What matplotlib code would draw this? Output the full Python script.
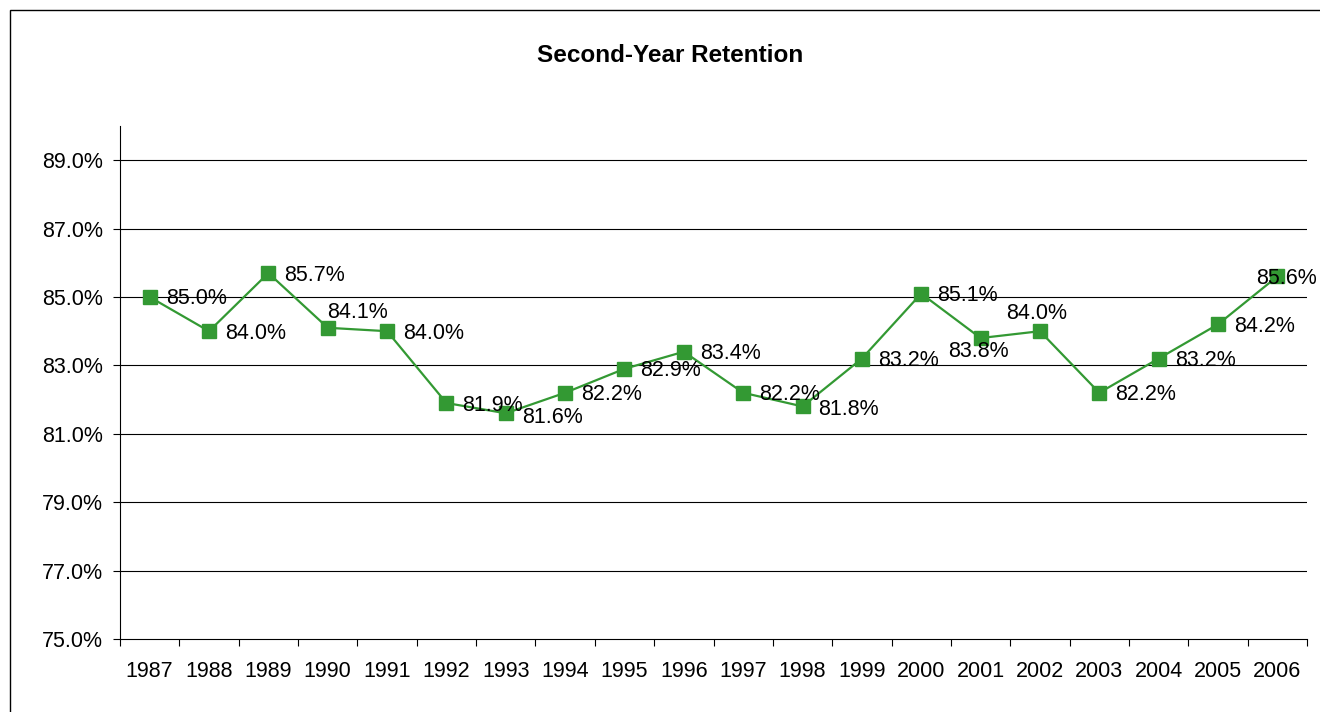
import numpy as np
import matplotlib.pyplot as plt
from matplotlib.patches import Rectangle
from matplotlib.ticker import FuncFormatter

plt.rcParams['font.family'] = ['Liberation Sans', 'DejaVu Sans']

# data
years = [str(y) for y in range(1987, 2007)]
retention = [85.0, 84.0, 85.7, 84.1, 84.0, 81.9, 81.6, 82.2, 82.9, 83.4,
             82.2, 81.8, 83.2, 85.1, 83.8, 84.0, 82.2, 83.2, 84.2, 85.6]
y_ticks = [75, 77, 79, 81, 83, 85, 87, 89]

# label placement tweaks (pixels), default is right of the marker
label_pos = {
    '1990': (-1, 17, 'left'),
    '1993': (16, -2, 'left'),
    '1998': (16, -1, 'left'),
    '2001': (-2, -11, 'center'),
    '2002': (-3, 20, 'center'),
    '2006': (9, 0, 'center'),
}

green = '#339933'
fs = 15.5

fig = plt.figure(figsize=(13.2, 7.12), dpi=100)
ax = fig.add_axes([120 / 1320, 1 - 639 / 712, (1307 - 120) / 1320, (639 - 126) / 712])

x = np.arange(len(years))
ax.plot(x, retention, color=green, lw=1.6, marker='s', markersize=10,
        markerfacecolor=green, markeredgecolor=green, zorder=3)

for i, v in enumerate(retention):
    dx, dy, ha = label_pos.get(years[i], (16, 0, 'left'))
    ax.annotate('%.1f%%' % v, (x[i], v), xytext=(dx, dy - 2), textcoords='offset pixels',
                ha=ha, va='center', fontsize=fs, color='black', zorder=4)

ax.set_xlim(-0.5, len(years) - 0.5)
ax.set_ylim(75, 90)
ax.set_yticks(y_ticks)
ax.yaxis.set_major_formatter(FuncFormatter(lambda v, p: '%.1f%%' % v))
for t in y_ticks[1:]:
    ax.axhline(t, color='black', lw=0.8, zorder=1)

ax.set_xticks(x)
ax.set_xticklabels(years)
ax.set_xticks(np.arange(-0.5, len(years)), minor=True)
ax.tick_params(axis='x', which='major', length=0, pad=16, labelsize=fs)
ax.tick_params(axis='x', which='minor', length=5, width=0.8, direction='out')
ax.tick_params(axis='y', length=5, width=0.8, pad=7, labelsize=fs)

for s in ['top', 'right']:
    ax.spines[s].set_visible(False)
for s in ['left', 'bottom']:
    ax.spines[s].set_linewidth(0.8)
    ax.spines[s].set_color('black')

fig.text(670 / 1320, 1 - 55 / 712, 'Second-Year Retention', ha='center', va='center',
         fontsize=17.5, fontweight='bold')

# chart area border
fig.add_artist(Rectangle((9.5 / 1320, -0.1), 1.2, (712 - 10) / 712 + 0.1,
                         transform=fig.transFigure, fill=False, edgecolor='black', lw=1))

fig.savefig('out.png', dpi=100)
